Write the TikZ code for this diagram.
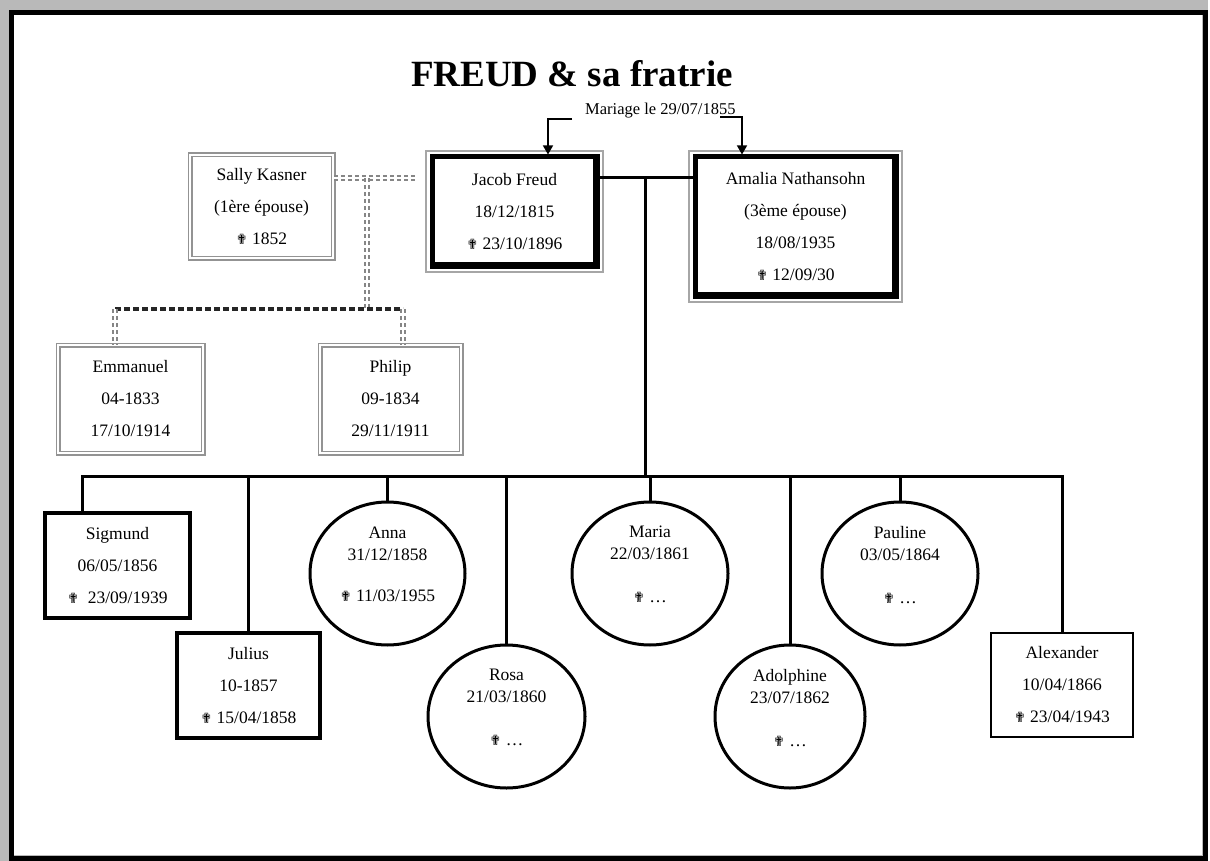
\documentclass[tikz,border=0pt]{standalone}
\usepackage{fontspec}
\setmainfont{Liberation Serif}
\newfontfamily\symbfont{DejaVu Sans}
\usetikzlibrary{shapes.geometric,arrows.meta}
\newcommand{\dcross}{{\symbfont\fontsize{14}{14}\selectfont ✟}}

\begin{document}
\begin{tikzpicture}[x=1pt,y=-1pt,
  boxtext/.style={font=\fontsize{17.5}{32}\selectfont,align=center,inner sep=0pt},
  wifebox/.style={boxtext,rectangle,draw=gray!85,double=white,double distance=2pt,line width=1.5pt},
  parentbox/.style={boxtext,rectangle,draw=black,line width=5pt},
  parentframe/.style={draw=gray!70,line width=1.8pt},
  parentshade/.style={draw=black,line width=3pt},
  kidbox/.style={boxtext,rectangle,draw=black,line width=3.5pt},
  kidoval/.style={ellipse,draw=black,line width=3pt,font=\fontsize{17.5}{22}\selectfont,align=center,inner sep=0pt},
  famline/.style={draw=black,line width=3pt},
  halfline/.style={draw=gray!95,double=white,double distance=1.5pt,line width=1.9pt,dash pattern=on 4pt off 3pt},
  halfbar/.style={draw=black!85,line width=3.5pt,dash pattern=on 6pt off 3pt},
  wedarrow/.style={draw=black,line width=1.2pt,-{Triangle[width=10pt,length=9pt]}}]
\useasboundingbox (0,0) rectangle (1210,861);
\fill[white] (0,0) rectangle (1210,861);
\fill[gray!55] (0,0) rectangle (1208,861);
\fill[white] (14,15) rectangle (1202,855);
\draw[line width=5pt] (11.5,12.5) rectangle (1205,858);

\node[font=\bfseries\fontsize{37}{40}\selectfont,anchor=base] (title) at (572,87) {FREUD \& sa fratrie};
\node[anchor=west,inner sep=0pt,font=\fontsize{16.5}{18}\selectfont] (mariage) at (585,111) {Mariage le 29/07/1855};

\node[wifebox,minimum width=143pt,minimum height=103pt] (sally) at (261.5,206.5) {Sally Kasner\\(1ère épouse)\\\dcross{} 1852};
\node[parentbox,minimum width=165pt,minimum height=109pt] (jacob) at (514.5,211.5) {Jacob Freud\\18/12/1815\\\dcross{} 23/10/1896};
\node[parentbox,minimum width=201pt,minimum height=139pt] (amalia) at (795.5,226.5) {Amalia Nathansohn\\(3ème épouse)\\18/08/1935\\\dcross{} 12/09/30};
\draw[parentframe] ([shift={(-3.5pt,3.5pt)}]jacob.north west) rectangle ([shift={(3.5pt,-3.5pt)}]jacob.south east);
\draw[parentframe] ([shift={(-3.5pt,3.5pt)}]amalia.north west) rectangle ([shift={(3.5pt,-3.5pt)}]amalia.south east);
\draw[parentshade] ([shift={(-5pt,-4pt)}]jacob.north east) -- ([shift={(-5pt,5pt)}]jacob.south east) -- ([shift={(4pt,5pt)}]jacob.south west);
\draw[parentshade] ([shift={(-5pt,-4pt)}]amalia.north east) -- ([shift={(-5pt,5pt)}]amalia.south east) -- ([shift={(4pt,5pt)}]amalia.south west);

\node[wifebox,minimum width=145pt,minimum height=108pt] (emmanuel) at (130.5,399) {Emmanuel\\04-1833\\17/10/1914};
\node[wifebox,minimum width=141pt,minimum height=108pt] (philip) at (390.5,399) {Philip\\09-1834\\29/11/1911};

\node[kidbox,minimum width=145pt,minimum height=105pt] (sigmund) at (117.5,565.5) {Sigmund\\06/05/1856\\\dcross{}\enspace 23/09/1939};
\node[kidbox,minimum width=143pt,minimum height=105pt] (julius) at (248.5,685.5) {Julius\\10-1857\\\dcross{} 15/04/1858};
\node[kidoval,minimum width=155pt,minimum height=143pt] (anna) at (387.5,573.5) {Anna\\31/12/1858\\[19pt]\dcross{} 11/03/1955\\[-4pt]\mbox{}};
\node[kidoval,minimum width=157pt,minimum height=143pt] (rosa) at (506.5,716.5) {Rosa\\21/03/1860\\[21pt]\dcross{} \dots\\[-4pt]\mbox{}};
\node[kidoval,minimum width=156pt,minimum height=143pt] (maria) at (650,573.5) {Maria\\22/03/1861\\[21pt]\dcross{} \dots\\[-4pt]\mbox{}};
\node[kidoval,minimum width=150pt,minimum height=143pt] (adolphine) at (790,716.5) {Adolphine\\23/07/1862\\[21pt]\dcross{} \dots\\[-4pt]\mbox{}};
\node[kidoval,minimum width=156pt,minimum height=143pt] (pauline) at (900,573.5) {Pauline\\03/05/1864\\[21pt]\dcross{} \dots\\[-4pt]\mbox{}};
\node[kidbox,line width=2.5pt,minimum width=142pt,minimum height=104pt] (alexander) at (1062,685) {Alexander\\10/04/1866\\\dcross{} 23/04/1943};

\coordinate (mj) at (548,119);
\coordinate (ma) at (742,117);
\coordinate (union) at (645,178);
\coordinate (fam) at (645,476);
\coordinate (sgstem) at (82,476);
\coordinate (sj) at (367,178);
\coordinate (half) at (367,309);
\coordinate (emstem) at (115,309);
\coordinate (phstem) at (403,309);

\draw[wedarrow] (mariage.west |- mj) ++(-13,0) -- (mj) -- (mj |- jacob.north);
\draw[wedarrow] (ma) ++(-22,0) -- (ma) -- (ma |- amalia.north);

\draw[famline] (jacob.east |- union) -- (amalia.west |- union);
\draw[famline] (union) -- (fam);
\draw[famline] (sigmund.north -| sgstem) |- (fam) -| (alexander.north);
\draw[famline] (julius.north |- fam) -- (julius.north);
\draw[famline] (anna.north |- fam) -- (anna.north);
\draw[famline] (rosa.north |- fam) -- (rosa.north);
\draw[famline] (maria.north |- fam) -- (maria.north);
\draw[famline] (adolphine.north |- fam) -- (adolphine.north);
\draw[famline] (pauline.north |- fam) -- (pauline.north);

\draw[halfline,shorten >=13pt] (sally.east |- sj) -- (jacob.west |- sj);
\draw[halfline] (sj) -- (half);
\draw[halfbar] (emstem) -- (phstem);
\draw[halfline] (emstem) -- (emstem |- emmanuel.north);
\draw[halfline] (phstem) -- (phstem |- philip.north);
\end{tikzpicture}
\end{document}
